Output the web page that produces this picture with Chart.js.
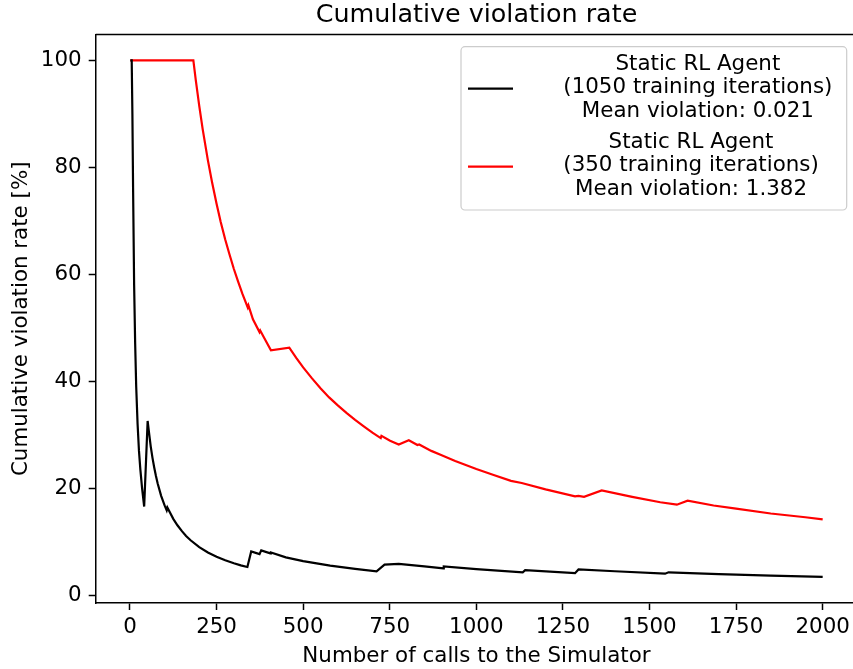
<!DOCTYPE html>
<html>
<head>
<meta charset="utf-8">
<title>Cumulative violation rate</title>
<script src="https://cdn.jsdelivr.net/npm/chart.js@4/dist/chart.umd.min.js"></script>
<style>
    html, body { margin: 0; padding: 0; background: #fff; overflow: hidden; }
    #wrap { width: 870px; height: 669px; }
</style>
</head>
<body>
<div id="wrap"><canvas id="chart" width="870" height="669"></canvas></div>
<script>
    // values
    let xTicks = [0, 250, 500, 750, 1000, 1250, 1500, 1750, 2000];
    let yTicks = [0, 20, 40, 60, 80, 100];

    // Static RL Agent, 1050 training iterations
    let blackX = [1, 5, 7, 9, 12, 15, 18, 22, 26, 30, 35, 41, 51, 55, 60, 65, 70, 75, 80, 90,
        100, 106, 108, 125, 137, 150, 162, 175, 200, 225, 250, 275, 300, 320, 339, 350, 374, 379, 405, 407,
        450, 500, 578, 650, 712, 735, 776, 850, 905, 906, 1000, 1134, 1141, 1285, 1295, 1400, 1545, 1555, 1700, 1850,
        2000];
    let blackY = [100, 100, 90, 76, 58, 47, 39, 32, 27, 23.5, 20, 16.6, 32.6, 30.4, 27.8, 25.7, 23.9, 22.3, 20.9, 18.6,
        16.8, 15.9, 16.4, 14.3, 13.1, 12.0, 11.1, 10.3, 9.0, 8.0, 7.2, 6.55, 6.0, 5.6, 5.3, 8.2, 7.7, 8.4, 7.85, 8.0,
        7.1, 6.4, 5.55, 4.95, 4.5, 5.75, 5.9, 5.4, 5.05, 5.4, 4.9, 4.3, 4.7, 4.15, 4.85, 4.5, 4.05, 4.3, 3.95, 3.7,
        3.45];

    // Static RL Agent, 350 training iterations
    let redX = [1, 183, 190, 200, 210, 225, 237, 250, 262, 275, 287, 300, 312, 325, 340, 342, 355, 374, 376, 390,
        407, 460, 480, 500, 525, 550, 575, 600, 625, 650, 675, 700, 724, 726, 751, 776, 805, 830, 835, 870,
        900, 939, 1000, 1050, 1100, 1131, 1200, 1285, 1295, 1311, 1362, 1450, 1531, 1579, 1610, 1685, 1750, 1850, 1950, 2000];
    let redY = [100, 100, 96.3, 91.5, 87.1, 81.3, 77.2, 73.2, 69.8, 66.5, 63.8, 61.0, 58.7, 56.3, 53.8, 54.2, 51.6, 49.2, 49.5, 47.8,
        45.8, 46.3, 44.4, 42.6, 40.6, 38.7, 37.0, 35.5, 34.1, 32.8, 31.6, 30.4, 29.4, 29.8, 28.9, 28.2, 29.0, 28.1, 28.2, 27.0,
        26.2, 25.1, 23.6, 22.5, 21.4, 21.0, 19.8, 18.5, 18.6, 18.4, 19.6, 18.4, 17.4, 16.95, 17.7, 16.8, 16.2, 15.3, 14.6, 14.2];

    let seriesLabels = [
        ['Static RL Agent', '(1050 training iterations)', 'Mean violation: 0.021'],
        ['Static RL Agent', '(350 training iterations)', 'Mean violation: 1.382'],
    ];
    let seriesColors = ['#000000', '#ff0000'];

    const FONT = '"DejaVu Sans", "Liberation Sans", sans-serif';
    const FONT_SIZE = 21.4;

    function toPoints(xs, ys) {
        let pts = [];
        for (let i = 0; i < xs.length; i++) {
            pts.push({x: xs[i], y: ys[i]});
        }
        return pts;
    }

    // top / right spines, matplotlib style box
    let framePlugin = {
        id: 'frame',
        afterDatasetsDraw: function (chart) {
            let a = chart.chartArea;
            let ctx = chart.ctx;
            ctx.save();
            ctx.strokeStyle = '#000';
            ctx.lineWidth = 1.5;
            ctx.beginPath();
            ctx.moveTo(a.left, a.top);
            ctx.lineTo(a.right, a.top);
            ctx.lineTo(a.right, a.bottom);
            ctx.stroke();
            ctx.restore();
        }
    };

    // legend with multi-line, centred labels
    let legendPlugin = {
        id: 'mplLegend',
        afterDraw: function (chart) {
            let ctx = chart.ctx;
            let box = {left: 461, top: 46.7, right: 846.7, bottom: 210};
            let textLeft = 563.3;
            let lineGap = 23.4;
            let firstLine = [64.3, 142.3];
            ctx.save();
            ctx.beginPath();
            ctx.roundRect(box.left, box.top, box.right - box.left, box.bottom - box.top, 4);
            ctx.fillStyle = 'rgba(255,255,255,0.8)';
            ctx.fill();
            ctx.strokeStyle = '#cccccc';
            ctx.lineWidth = 1.2;
            ctx.stroke();

            ctx.font = FONT_SIZE + 'px ' + FONT;
            ctx.textBaseline = 'middle';
            ctx.textAlign = 'center';
            chart.data.datasets.forEach(function (ds, i) {
                let lines = ds.label;
                let maxW = 0;
                lines.forEach(function (l) {
                    maxW = Math.max(maxW, ctx.measureText(l).width);
                });
                let cx = textLeft + maxW / 2;
                ctx.fillStyle = '#000';
                lines.forEach(function (l, j) {
                    ctx.fillText(l, cx, firstLine[i] + j * lineGap);
                });
                // handle
                let hy = firstLine[i] + lineGap + 1;
                ctx.strokeStyle = ds.borderColor;
                ctx.lineWidth = ds.borderWidth;
                ctx.beginPath();
                ctx.moveTo(468, hy);
                ctx.lineTo(513, hy);
                ctx.stroke();
            });
            ctx.restore();
        }
    };

    let tickFont = {family: FONT, size: FONT_SIZE, lineHeight: 1};

    let chart = new Chart(document.getElementById('chart'), {
        type: 'line',
        data: {
            datasets: [
                {
                    label: seriesLabels[0],
                    data: toPoints(blackX, blackY),
                    borderColor: seriesColors[0],
                    borderWidth: 2.2,
                    pointRadius: 0,
                    tension: 0,
                    fill: false,
                },
                {
                    label: seriesLabels[1],
                    data: toPoints(redX, redY),
                    borderColor: seriesColors[1],
                    borderWidth: 2.2,
                    pointRadius: 0,
                    tension: 0,
                    fill: false,
                },
            ]
        },
        options: {
            responsive: false,
            animation: false,
            events: [],
            layout: {padding: {top: 0, left: 0, right: 870 - 857.3, bottom: 0}},
            plugins: {
                legend: {display: false},
                tooltip: {enabled: false},
                title: {
                    display: true,
                    text: 'Cumulative violation rate',
                    fullSize: false,
                    color: '#000',
                    font: {family: FONT, size: 25.4, weight: 'normal', lineHeight: 1.2},
                    padding: {top: 0, bottom: 4},
                },
            },
            scales: {
                x: {
                    type: 'linear',
                    min: -98.95,
                    max: 2099.95,
                    afterBuildTicks: function (scale) {
                        scale.ticks = xTicks.map(function (v) { return {value: v}; });
                    },
                    afterFit: function (scale) { scale.height = 66; },
                    grid: {drawOnChartArea: false, drawTicks: true, tickLength: 7, tickWidth: 1.5, tickColor: '#000'},
                    border: {display: true, color: '#000', width: 1.5},
                    ticks: {
                        color: '#000', font: tickFont, padding: 7, maxRotation: 0, autoSkip: false,
                        callback: function (v) { return String(v); },
                    },
                    title: {
                        display: true,
                        text: 'Number of calls to the Simulator',
                        color: '#000',
                        font: {family: FONT, size: FONT_SIZE, lineHeight: 1.2},
                        padding: {top: 0, bottom: 0},
                    },
                },
                y: {
                    type: 'linear',
                    min: -1.43,
                    max: 104.83,
                    afterBuildTicks: function (scale) {
                        scale.ticks = yTicks.map(function (v) { return {value: v}; });
                    },
                    afterFit: function (scale) { scale.width = 95.7; },
                    grid: {drawOnChartArea: false, drawTicks: true, tickLength: 7, tickWidth: 1.5, tickColor: '#000'},
                    border: {display: true, color: '#000', width: 1.5},
                    ticks: {
                        color: '#000', font: tickFont, padding: 7, autoSkip: false,
                        callback: function (v) { return String(v); },
                    },
                    title: {
                        display: true,
                        text: 'Cumulative violation rate [%]',
                        color: '#000',
                        font: {family: FONT, size: FONT_SIZE, lineHeight: 1.2},
                        padding: {top: 9, bottom: 0},
                    },
                },
            },
        },
        plugins: [framePlugin, legendPlugin],
    });
</script>
</body>
</html>
